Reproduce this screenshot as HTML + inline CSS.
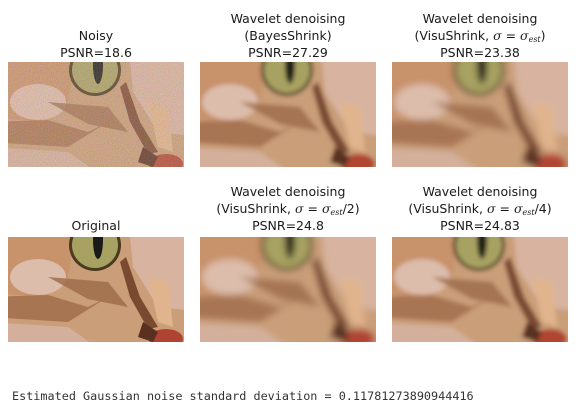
<!DOCTYPE html>
<html><head><meta charset="utf-8">
<style>
html,body{margin:0;padding:0;background:#fff;}
body{width:580px;height:411px;position:relative;overflow:hidden;font-family:"DejaVu Sans","Liberation Sans",sans-serif;color:#1a1a1a;}
.t{position:absolute;width:200px;text-align:center;font-size:12.5px;line-height:17px;}
.im{position:absolute;width:176px;height:105px;}
.mono{position:absolute;left:12px;top:389px;font-family:"DejaVu Sans Mono","Liberation Mono",monospace;font-size:11.8px;white-space:pre;color:#333;}
i{font-family:"DejaVu Serif","Liberation Serif",serif;}
sub{font-size:8px;vertical-align:-2px;line-height:0;}
</style></head><body>
<svg width="0" height="0" style="position:absolute">
<defs>
<symbol id="cat" viewBox="0 0 176 105" overflow="visible">
<rect x="-20" y="-20" width="216" height="145" fill="#c99e78"/>
<path d="M-20 -20H70L60 40 30 60 -20 55Z" fill="#c8926a"/>
<ellipse cx="30" cy="40" rx="28" ry="18" fill="#dcbcaa"/>
<path d="M120 -20H196V75L150 70 125 30Z" fill="#d8b4a0"/>
<path d="M-20 60 40 58 80 70 100 60 60 85 -20 80Z" fill="#a87552"/>
<path d="M-20 85 60 90 110 125H-20Z" fill="#d4b09c"/>
<path d="M40 40 100 45 120 70 80 62Z" fill="#9c6a48" opacity=".8"/>
<path d="M118 20 132 60 150 90 140 92 122 60 112 25Z" fill="#7a4a30"/>
<path d="M140 40 160 45 165 90 150 85Z" fill="#e0b48c"/>
<ellipse cx="87" cy="8" rx="26" ry="26" fill="#4a3a20"/>
<ellipse cx="87" cy="8" rx="23" ry="23" fill="#a8a262"/>
<ellipse cx="90" cy="3" rx="5" ry="19" fill="#1a1a18"/>
<ellipse cx="158" cy="102" rx="17" ry="10" fill="#b04432"/>
<path d="M135 85 150 95 145 105 130 100Z" fill="#5a3020"/>
</symbol>
<filter id="bl" x="0" y="0" width="100%" height="100%"><feGaussianBlur stdDeviation="2" edgeMode="duplicate"/></filter>
<filter id="bl2" x="0" y="0" width="100%" height="100%"><feGaussianBlur stdDeviation="3.5" edgeMode="duplicate"/></filter>
<filter id="nz" x="0" y="0" width="100%" height="100%"><feTurbulence type="fractalNoise" baseFrequency="1.2" numOctaves="1" seed="5"/><feColorMatrix type="matrix" values="1.6 0 0 0 -0.2  0 1.4 0 0 -0.25  0 0 1.4 0 -0.3  0 0 0 0 0.28"/></filter>
<clipPath id="cp"><rect width="176" height="105"/></clipPath>
</defs></svg>

<div class="t" style="left:-4px;top:27px">Noisy<br>PSNR=18.6</div>
<div class="t" style="left:188px;top:10px">Wavelet denoising<br>(BayesShrink)<br>PSNR=27.29</div>
<div class="t" style="left:380px;top:10px">Wavelet denoising<br>(VisuShrink, <i>σ</i> = <i>σ</i><sub><i>est</i></sub>)<br>PSNR=23.38</div>
<div class="t" style="left:-4px;top:217px">Original</div>
<div class="t" style="left:188px;top:183px">Wavelet denoising<br>(VisuShrink, <i>σ</i> = <i>σ</i><sub><i>est</i></sub>/2)<br>PSNR=24.8</div>
<div class="t" style="left:380px;top:183px">Wavelet denoising<br>(VisuShrink, <i>σ</i> = <i>σ</i><sub><i>est</i></sub>/4)<br>PSNR=24.83</div>

<svg class="im" style="left:8px;top:62px" viewBox="0 0 176 105"><g clip-path="url(#cp)"><use href="#cat"/><rect width="176" height="105" filter="url(#nz)"/></g></svg>
<svg class="im" style="left:200px;top:62px" viewBox="0 0 176 105"><g clip-path="url(#cp)"><rect width="176" height="105" fill="#c99e78"/><g filter="url(#bl)"><use href="#cat"/></g></g></svg>
<svg class="im" style="left:392px;top:62px" viewBox="0 0 176 105"><g clip-path="url(#cp)"><rect width="176" height="105" fill="#c99e78"/><g filter="url(#bl2)"><use href="#cat"/></g></g></svg>
<svg class="im" style="left:8px;top:237px" viewBox="0 0 176 105"><g clip-path="url(#cp)"><use href="#cat"/></g></svg>
<svg class="im" style="left:200px;top:237px" viewBox="0 0 176 105"><g clip-path="url(#cp)"><rect width="176" height="105" fill="#c99e78"/><g filter="url(#bl2)"><use href="#cat"/></g></g></svg>
<svg class="im" style="left:392px;top:237px" viewBox="0 0 176 105"><g clip-path="url(#cp)"><rect width="176" height="105" fill="#c99e78"/><g filter="url(#bl)"><use href="#cat"/></g></g></svg>

<div class="mono">Estimated Gaussian noise standard deviation = 0.11781273890944416</div>
</body></html>
